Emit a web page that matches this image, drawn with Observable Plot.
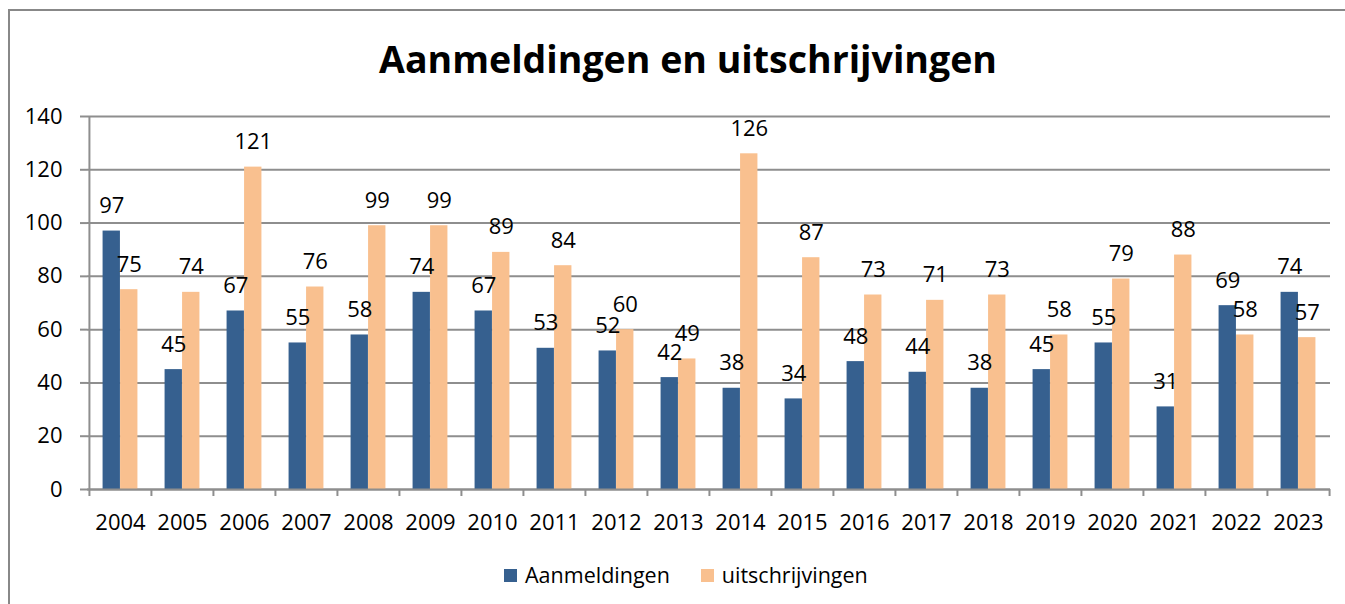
<!DOCTYPE html>
<html>
<head>
<meta charset="utf-8">
<script src="https://cdn.jsdelivr.net/npm/d3@7"></script>
<script src="https://cdn.jsdelivr.net/npm/@observablehq/plot@0.6"></script>
<style>
  html, body { margin: 0; padding: 0; background: #fff; }
  body { width: 1345px; height: 604px; position: relative; overflow: hidden; font-family: "Open Sans", sans-serif; }
  #frame { position: absolute; left: 8px; top: 9px; width: 1420px; height: 700px; border: 2px solid #888; box-sizing: border-box; }
  #title { position: absolute; left: 0; width: 1376px; top: 36px; text-align: center; font-weight: 700; font-size: 37.5px; color: #000; line-height: 1.2; }
  #chart { position: absolute; left: 0; top: 90px; }
  #legend { position: absolute; left: 504px; top: 558px; display: flex; align-items: center; font-size: 21.5px; color: #000; line-height: 34px; }
  .sw { width: 13px; height: 13px; display: inline-block; margin-right: 8px; }
  .item { display: flex; align-items: center; margin-right: 31px; }
</style>
</head>
<body>
<div id="frame"></div>
<div id="title">Aanmeldingen en uitschrijvingen</div>
<div id="chart"></div>
<div id="legend"></div>
<script>
const years = ["2004","2005","2006","2007","2008","2009","2010","2011","2012","2013","2014","2015","2016","2017","2018","2019","2020","2021","2022","2023"];
const aanmeldingen = [97,45,67,55,58,74,67,53,52,42,38,34,48,44,38,45,55,31,69,74];
const uitschrijvingen = [75,74,121,76,99,99,89,84,60,49,126,87,73,71,73,58,79,88,58,57];
const seriesNames = ["Aanmeldingen","uitschrijvingen"];
const seriesColors = ["#36608f","#f9c08f"];
const yTicks = [0,20,40,60,80,100,120,140];

const rows = [];
years.forEach((y, i) => {
  rows.push({year: y, series: seriesNames[0], value: aanmeldingen[i]});
  rows.push({year: y, series: seriesNames[1], value: uitschrijvingen[i]});
});
const rowsA = rows.filter(d => d.series === seriesNames[0]);
const rowsU = rows.filter(d => d.series === seriesNames[1]);

const W = 1345, H = 460, ML = 87, MR = 15, MT = 26, MB = 61;
const bw = (W - ML - MR) / years.length;
const barW = 17.5;
const outer = (bw - 2 * barW) / 2;
const gridColor = "#8e8e8e";

const chart = Plot.plot({
  width: W, height: H,
  marginLeft: ML, marginRight: MR, marginTop: MT, marginBottom: MB,
  x: {domain: years, padding: 0, label: null},
  y: {domain: [0, 140], label: null},
  color: {domain: seriesNames, range: seriesColors},
  style: {fontFamily: "'Open Sans', sans-serif", fontSize: "22px", color: "#000", background: "transparent", overflow: "visible"},
  marks: [
    Plot.gridY(yTicks, {stroke: gridColor, strokeOpacity: 1, strokeWidth: 2}),
    Plot.ruleX([years[0]], {dx: -bw / 2, y1: 0, y2: 140, stroke: gridColor, strokeWidth: 2}),
    Plot.axisY(yTicks, {tickSize: 7, tickPadding: 18, stroke: gridColor, strokeWidth: 2, fill: "#000", label: null}),
    Plot.barY(rowsA, {x: "year", y: "value", fill: "series", insetLeft: outer, insetRight: outer + barW}),
    Plot.barY(rowsU, {x: "year", y: "value", fill: "series", insetLeft: outer + barW, insetRight: outer}),
    Plot.ruleY([0], {stroke: gridColor, strokeWidth: 2}),
    Plot.axisX(years, {tickSize: 7, dx: -bw / 2, stroke: gridColor, strokeWidth: 2, fill: "none", label: null}),
    Plot.axisX([years[years.length - 1]], {tickSize: 7, dx: bw / 2, stroke: gridColor, strokeWidth: 2, fill: "none", label: null}),
    Plot.axisX(years, {tickSize: 0, tickPadding: 25, fill: "#000", label: null}),
    Plot.text(rowsA, {x: "year", y: "value", text: d => String(d.value), dx: -barW / 2, dy: -25, lineAnchor: "middle", fill: "#000"}),
    Plot.text(rowsU, {x: "year", y: "value", text: d => String(d.value), dx: barW / 2, dy: -25, lineAnchor: "middle", fill: "#000"})
  ]
});
document.getElementById("chart").appendChild(chart);

const legend = document.getElementById("legend");
seriesNames.forEach((name, i) => {
  const item = document.createElement("div");
  item.className = "item";
  const sw = document.createElement("span");
  sw.className = "sw";
  sw.style.background = seriesColors[i];
  const label = document.createElement("span");
  label.textContent = name;
  item.appendChild(sw);
  item.appendChild(label);
  legend.appendChild(item);
});
</script>
</body>
</html>
